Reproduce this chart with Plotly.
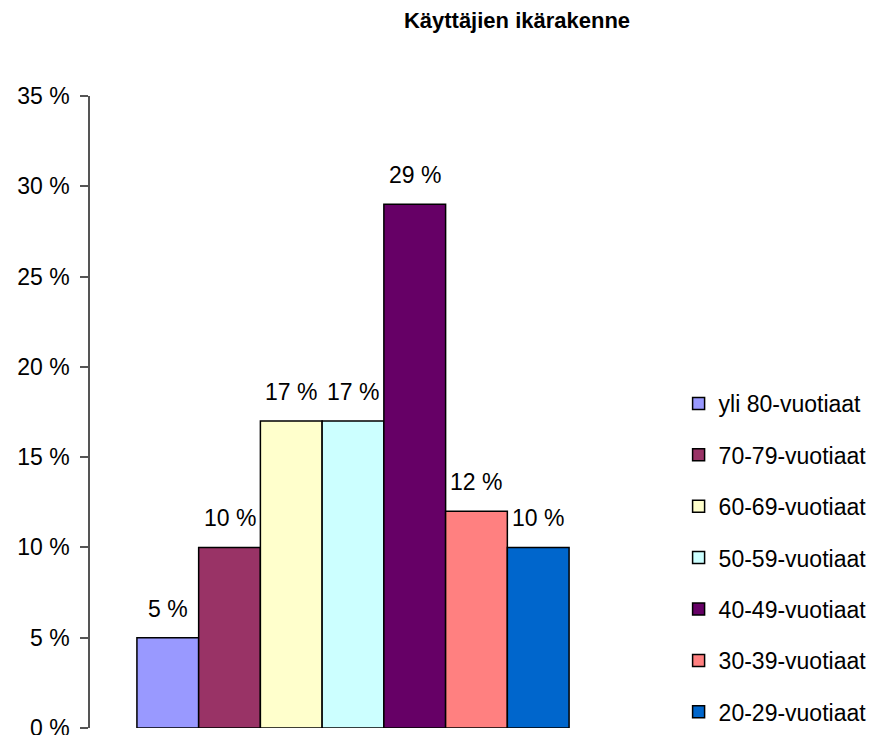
import plotly.graph_objects as go

# Käyttäjien ikärakenne - osuudet prosentteina
groups = ["yli 80-vuotiaat", "70-79-vuotiaat", "60-69-vuotiaat", "50-59-vuotiaat",
          "40-49-vuotiaat", "30-39-vuotiaat", "20-29-vuotiaat"]
shares = [5, 10, 17, 17, 29, 12, 10]
colors = ["#9999FF", "#993366", "#FFFFCC", "#CCFFFF", "#660066", "#FF8080", "#0066CC"]
y_ticks = [0, 5, 10, 15, 20, 25, 30, 35]

FONT = "Liberation Sans, Arial, sans-serif"

fig = go.Figure()
for i, (name, val, col) in enumerate(zip(groups, shares, colors)):
    fig.add_trace(go.Bar(
        x=[i], y=[val], width=1, name=name, legendgroup=name,
        marker=dict(color=col, line=dict(color="black", width=1.5)),
        hoverinfo="skip",
    ))
    # datalabel above the bar
    fig.add_annotation(x=i, y=val, text=f"{val} %", showarrow=False,
                       yanchor="middle", yshift=29,
                       font=dict(family=FONT, size=23, color="black"))

# page body has an 8px margin, margins below are shifted for that.
# b=0 + y domain so the tall legend doesn't push the bottom margin
fig.update_layout(
    width=875, height=735,
    barmode="overlay",
    paper_bgcolor="white", plot_bgcolor="white",
    margin=dict(l=82, r=267, t=88, b=0),
    title=dict(text="<b>Käyttäjien ikärakenne</b>", x=509 / 875, xanchor="center",
               y=1 - 12 / 735, yanchor="middle", yref="container",
               font=dict(family=FONT, size=22, color="black")),
    font=dict(family=FONT, size=23, color="black"),
    legend=dict(x=1.119, xanchor="left", y=0.014, yanchor="bottom",
                traceorder="grouped", tracegroupgap=18.5,
                font=dict(family=FONT, size=23, color="black")),
    showlegend=True,
)
fig.update_xaxes(range=[-1.26, 7.26], visible=False, fixedrange=True)
fig.update_yaxes(range=[0, 35], domain=[15 / 647, 1],
                 tickvals=y_ticks, ticktext=[f"{v} %" for v in y_ticks],
                 showgrid=False, zeroline=False, showline=True,
                 linecolor="#555555", linewidth=1.5, ticks="outside",
                 ticklen=8, tickcolor="#555555", tickwidth=1.5,
                 automargin=False, ticklabelstandoff=6,
                 tickfont=dict(family=FONT, size=23, color="black"))

fig.write_html("out.html")
